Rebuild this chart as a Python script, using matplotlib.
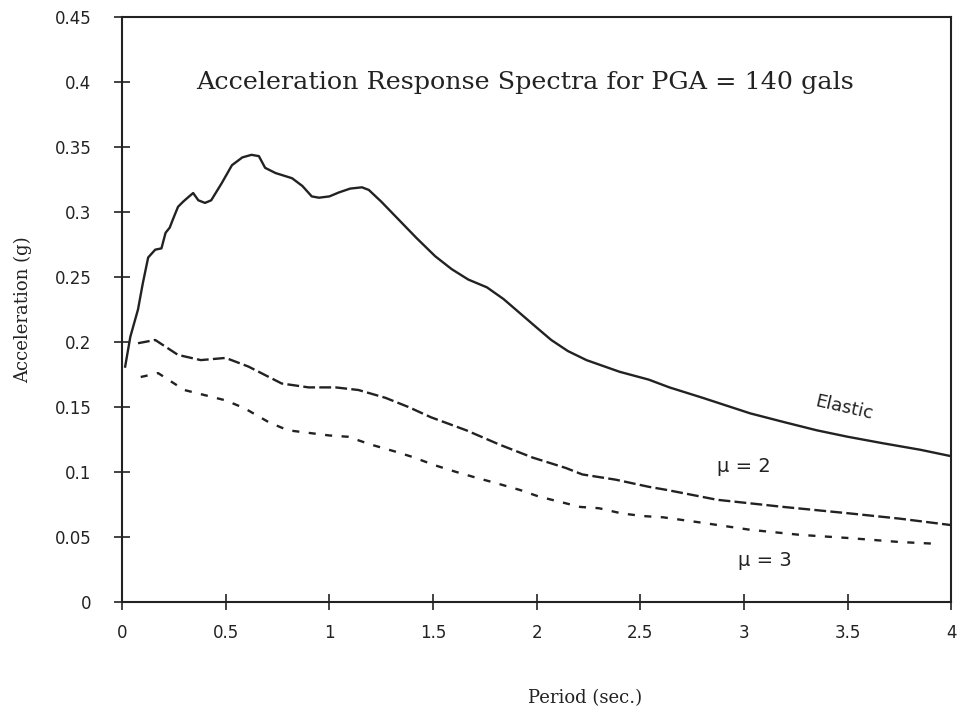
import matplotlib.pyplot as plt
import numpy as np

# values
period_el = [0.015, 0.04, 0.077, 0.10, 0.126, 0.16, 0.19, 0.21, 0.23, 0.247, 0.27, 0.295,
             0.32, 0.343, 0.368, 0.40, 0.43, 0.48, 0.53, 0.58, 0.624, 0.66, 0.69, 0.74,
             0.82, 0.87, 0.915, 0.95, 1.0, 1.045, 1.10, 1.157, 1.19, 1.25, 1.335, 1.42,
             1.51, 1.59, 1.67, 1.76, 1.84, 1.92, 2.0, 2.07, 2.15, 2.24, 2.40, 2.54,
             2.64, 2.80, 3.03, 3.20, 3.35, 3.50, 3.67, 3.85, 4.0]
elastic = [0.181, 0.204, 0.225, 0.245, 0.265, 0.271, 0.272, 0.284, 0.288, 0.295, 0.304, 0.308,
           0.3115, 0.3146, 0.309, 0.307, 0.309, 0.322, 0.336, 0.342, 0.344, 0.343, 0.334, 0.330,
           0.326, 0.320, 0.312, 0.311, 0.312, 0.315, 0.318, 0.319, 0.317, 0.308, 0.294, 0.280,
           0.266, 0.256, 0.248, 0.242, 0.233, 0.222, 0.211, 0.2015, 0.193, 0.186, 0.177, 0.171,
           0.165, 0.157, 0.145, 0.138, 0.132, 0.127, 0.122, 0.117, 0.112]

period_mu2 = [0.077, 0.16, 0.27, 0.38, 0.50, 0.61, 0.77, 0.90, 1.03, 1.14, 1.27, 1.38,
              1.49, 1.66, 1.82, 1.98, 2.14, 2.22, 2.38, 2.54, 2.63, 2.79, 2.87, 3.19,
              3.51, 3.75, 4.0]
mu2 = [0.199, 0.2015, 0.19, 0.186, 0.1877, 0.181, 0.168, 0.165, 0.165, 0.163, 0.157, 0.150,
       0.142, 0.132, 0.121, 0.111, 0.103, 0.098, 0.094, 0.0885, 0.086, 0.081, 0.0785, 0.073,
       0.068, 0.064, 0.059]

period_mu3 = [0.09, 0.174, 0.30, 0.40, 0.50, 0.59, 0.71, 0.80, 0.90, 1.0, 1.09, 1.20,
              1.32, 1.40, 1.51, 1.61, 1.71, 1.80, 1.92, 2.01, 2.11, 2.21, 2.30, 2.41,
              2.51, 2.61, 2.79, 3.03, 3.27, 3.51, 3.75, 3.93]
mu3 = [0.173, 0.176, 0.163, 0.159, 0.155, 0.149, 0.138, 0.132, 0.130, 0.128, 0.127, 0.121,
       0.1155, 0.1115, 0.105, 0.100, 0.0954, 0.0915, 0.086, 0.081, 0.077, 0.073, 0.072, 0.068,
       0.066, 0.065, 0.061, 0.0554, 0.0515, 0.049, 0.046, 0.0446]

xticks = [0, 0.5, 1, 1.5, 2, 2.5, 3, 3.5, 4]
xtick_labels = ['0', '0.5', '1', '1.5', '2', '2.5', '3', '3.5', '4']
yticks = [0, 0.05, 0.1, 0.15, 0.2, 0.25, 0.3, 0.35, 0.4, 0.45]
ytick_labels = ['0', '0.05', '0.1', '0.15', '0.2', '0.25', '0.3', '0.35', '0.4', '0.45']

ink = '#222222'
serif = 'DejaVu Serif'

fig = plt.figure(figsize=(9.61, 7.13), dpi=100)
ax = fig.add_axes([0.127, 0.156, 0.863, 0.820])

ax.plot(period_el, elastic, color=ink, lw=1.7)
ax.plot(period_mu2, mu2, color=ink, lw=1.7, dashes=(5, 1.8))
ax.plot(period_mu3, mu3, color=ink, lw=1.7, dashes=(3, 4))

ax.set_xlim(0, 4)
ax.set_ylim(0, 0.45)
ax.set_xticks(xticks)
ax.set_xticklabels(xtick_labels)
ax.set_yticks(yticks)
ax.set_yticklabels(ytick_labels)
ax.tick_params(axis='x', direction='inout', length=12, width=1.2, pad=10,
               labelsize=12, colors=ink)
ax.tick_params(axis='y', direction='inout', length=12, width=1.2, pad=16,
               labelsize=12, colors=ink)
for s in ax.spines.values():
    s.set_linewidth(1.5)
    s.set_color(ink)

ax.text(1.942, 0.4, 'Acceleration Response Spectra for PGA = 140 gals',
        ha='center', va='center', fontsize=18.3, family=serif, color=ink)
ax.text(3.48, 0.149, 'Elastic', ha='center', va='center', fontsize=13,
        rotation=-13, color=ink)
ax.text(3.0, 0.104, 'μ = 2', ha='center', va='center', fontsize=14, color=ink)
ax.text(3.1, 0.032, 'μ = 3', ha='center', va='center', fontsize=14, color=ink)

ax.set_xlabel('Period (sec.)', family=serif, fontsize=13, color=ink)
ax.set_ylabel('Acceleration (g)', family=serif, fontsize=13, color=ink)
ax.xaxis.set_label_coords(0.558, -0.15)
ax.yaxis.set_label_coords(-0.108, 0.5)

fig.savefig('out.png', dpi=100)
